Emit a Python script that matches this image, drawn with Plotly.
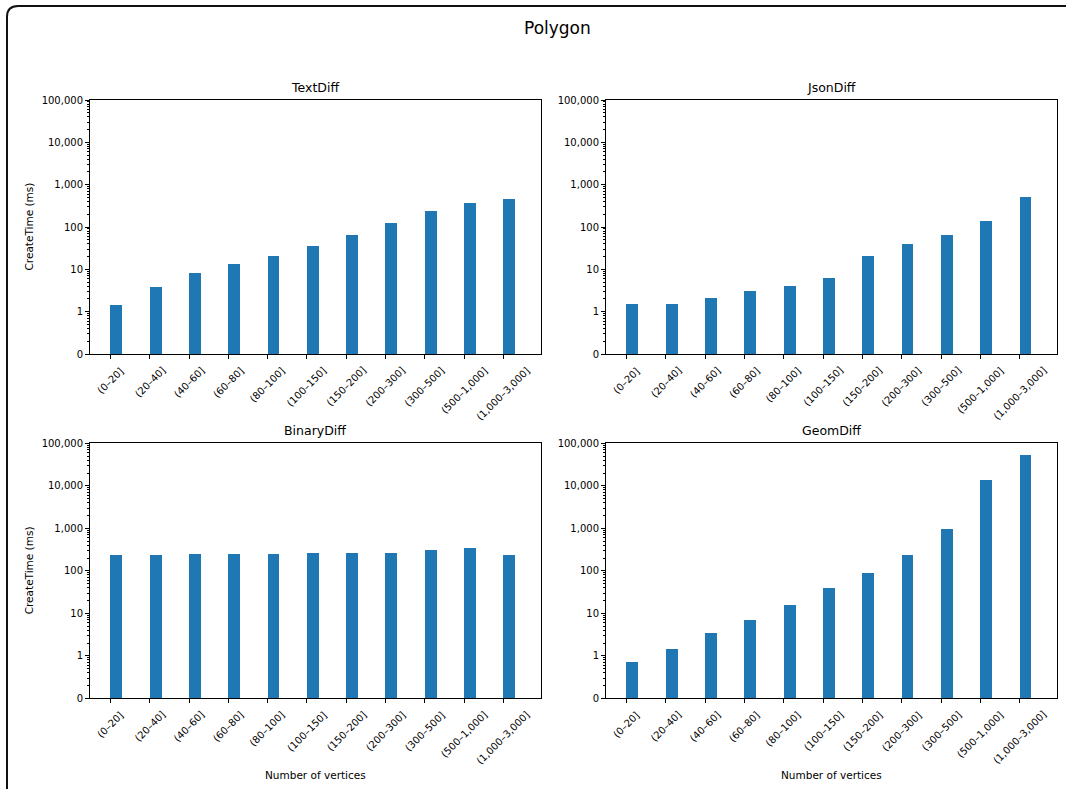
import math
import plotly.graph_objects as go

# ---------------- data ----------------
categories = ["(0\u201320]", "(20\u201340]", "(40\u201360]", "(60\u201380]", "(80\u2013100]",
              "(100\u2013150]", "(150\u2013200]", "(200\u2013300]", "(300\u2013500]",
              "(500\u20131,000]", "(1,000\u20133,000]"]

text_diff = [1.42, 3.8, 8.1, 13.6, 20.7, 36, 66, 127, 244, 363, 461]
json_diff = [1.49, 1.49, 2.1, 3.08, 3.97, 6.36, 20.6, 39, 66, 141, 521]
binary_diff = [234, 234, 248, 248, 248, 261, 261, 261, 297, 337, 234]
geom_diff = [0.85, 1.41, 3.43, 6.96, 15.7, 39.7, 88, 234, 930, 13600, 51200]

panel_titles = ["TextDiff", "JsonDiff", "BinaryDiff", "GeomDiff"]
panel_values = [text_diff, json_diff, binary_diff, geom_diff]

ytick_values = [0, 1, 10, 100, 1000, 10000, 100000]
ytick_labels = ["0", "1", "10", "100", "1,000", "10,000", "100,000"]

main_title = "Polygon"
y_title = "CreateTime (ms)"
x_title = "Number of vertices"


# symmetric-log style scale: linear in [0, 1], log10 above
def symlog(v):
    return v if v <= 1 else 1 + math.log10(v)


W, H = 1066, 789
BLUE = "#1f77b4"
FONT = "DejaVu Sans"
TXT = "#000000"

# axes boxes in pixels (left, right, top, bottom)
boxes = [
    (90, 540.7, 100, 354),
    (606, 1057, 100, 354),
    (90, 540.7, 443.3, 698.3),
    (606, 1057, 443.3, 698.3),
]

minor_vals = []
for d in range(0, 6):
    for k in range(2, 10):
        minor_vals.append(d + math.log10(k))

fig = go.Figure()
annotations = []
for i, (title, vals) in enumerate(zip(panel_titles, panel_values)):
    n = i + 1
    xa = "x" if n == 1 else f"x{n}"
    ya = "y" if n == 1 else f"y{n}"
    fig.add_trace(go.Bar(
        x=list(range(len(categories))),
        y=[symlog(v) for v in vals],
        width=0.3, offset=0,
        marker=dict(color=BLUE, line=dict(width=0)),
        xaxis=xa, yaxis=ya, showlegend=False,
        hovertext=[f"{c}: {v}" for c, v in zip(categories, vals)],
    ))
    l, r, t, b = boxes[i]
    xkey = "xaxis" if n == 1 else f"xaxis{n}"
    ykey = "yaxis" if n == 1 else f"yaxis{n}"
    fig.layout[xkey] = dict(
        domain=[l / W, r / W], anchor=ya, automargin=False,
        range=[-0.52, 10.95],
        tickmode="array", tickvals=list(range(len(categories))),
        showticklabels=False, ticks="outside", ticklen=4, tickcolor="#000",
        showline=True, linecolor="#000", linewidth=1, mirror=True,
        showgrid=False, zeroline=False, fixedrange=True,
    )
    fig.layout[ykey] = dict(
        domain=[1 - b / H, 1 - t / H], anchor=xa, automargin=False,
        range=[0, 6],
        tickmode="array", tickvals=[symlog(v) for v in ytick_values],
        ticktext=ytick_labels, ticks="outside", ticklen=4, tickcolor="#000",
        tickfont=dict(family=FONT, size=10, color=TXT),
        minor=dict(tickmode="array", tickvals=minor_vals, ticks="outside",
                   ticklen=2, tickcolor="#000", showgrid=False),
        showline=True, linecolor="#000", linewidth=1, mirror=True,
        showgrid=False, zeroline=False, fixedrange=True,
    )
    # subplot title
    annotations.append(dict(
        text=title, x=(l + r) / 2 / W, y=1 - t / H, xref="paper", yref="paper",
        xanchor="center", yanchor="bottom", yshift=3, showarrow=False,
        font=dict(family=FONT, size=12.5, color=TXT),
    ))
    # rotated category labels (centred on ticks)
    for j, c in enumerate(categories):
        annotations.append(dict(
            text=c, x=j, y=0, xref=xa, yref=f"{ya} domain",
            xanchor="center", yanchor="top", yshift=-8, textangle=-45,
            showarrow=False, font=dict(family=FONT, size=10, color=TXT),
        ))
    # y title on left column
    if i % 2 == 0:
        annotations.append(dict(
            text=y_title, x=28.5 / W, y=1 - (t + b) / 2 / H, xref="paper", yref="paper",
            xanchor="center", yanchor="middle", textangle=-90, showarrow=False,
            font=dict(family=FONT, size=10.5, color=TXT),
        ))
    # x title on bottom row
    if i >= 2:
        annotations.append(dict(
            text=x_title, x=(l + r) / 2 / W, y=1 - 775 / H, xref="paper", yref="paper",
            xanchor="center", yanchor="middle", showarrow=False,
            font=dict(family=FONT, size=10.5, color=TXT),
        ))

annotations.append(dict(
    text=main_title, x=557 / W, y=1 - 28 / H, xref="paper", yref="paper",
    xanchor="center", yanchor="middle", showarrow=False,
    font=dict(family=FONT, size=17, color=TXT),
))


# rounded frame (top-left corner visible)
def px(x, y):
    return f"{x / W:.5f},{1 - y / H:.5f}"


frame_path = (f"M {px(7, 800)} L {px(7, 17)} Q {px(7, 6)} {px(18, 6)} L {px(1075, 6)}")

fig.update_layout(
    width=W, height=H,
    margin=dict(l=0, r=0, t=0, b=0, pad=0, autoexpand=False),
    paper_bgcolor="white", plot_bgcolor="white",
    annotations=annotations,
    shapes=[dict(type="path", path=frame_path, xref="paper", yref="paper",
                 line=dict(color="#111", width=2))],
    bargap=0,
)

page_fix = (
    "var b=document.body, h=document.documentElement;"
    "b.style.margin='0';b.style.padding='0';b.style.overflow='hidden';"
    "b.style.height='789px';h.style.height='789px';h.style.overflow='hidden';"
    "var gd=document.getElementById('{plot_id}');"
    "gd.style.position='fixed';gd.style.top='0px';gd.style.left='0px';"
)

fig.write_html("out.html", config={"displayModeBar": False}, post_script=page_fix)
